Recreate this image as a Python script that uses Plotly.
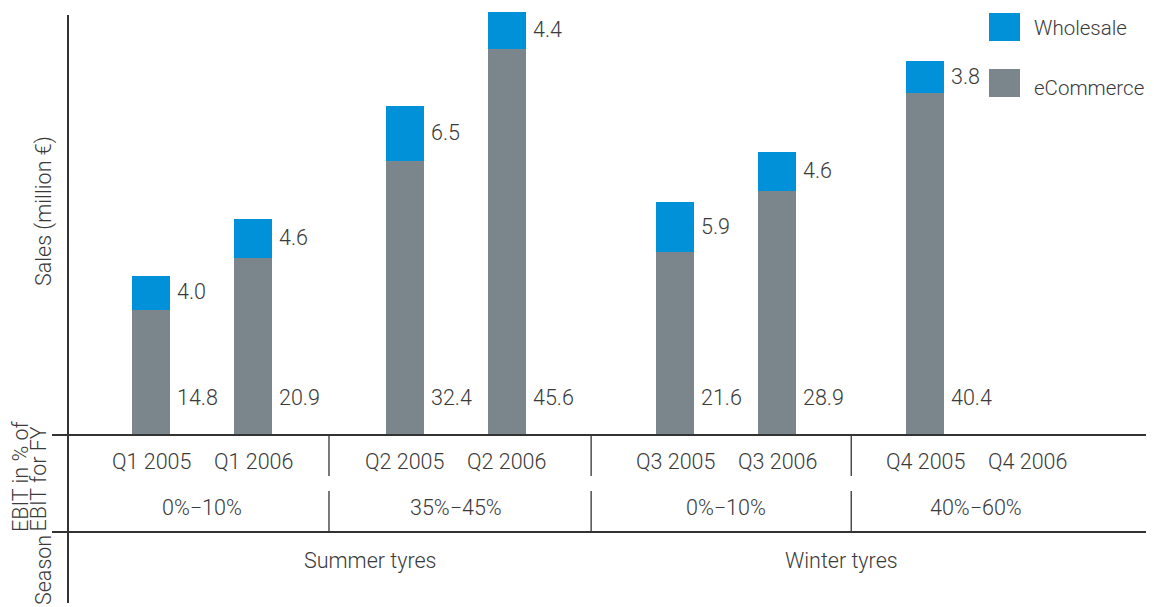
import plotly.graph_objects as go

# ---------------- data ----------------
quarters = ["Q1 2005", "Q1 2006", "Q2 2005", "Q2 2006",
            "Q3 2005", "Q3 2006", "Q4 2005", "Q4 2006"]
ecommerce = [14.8, 20.9, 32.4, 45.6, 21.6, 28.9, 40.4, None]
wholesale = [4.0, 4.6, 6.5, 4.4, 5.9, 4.6, 3.8, None]
ebit_ranges = ["0%\u221210%", "35%\u221245%", "0%\u221210%", "40%\u221260%"]
seasons = ["Summer tyres", "Winter tyres"]

# ---------------- styling / layout helpers ----------------
OFF = 8  # page body margin
W, H = 1154 - OFF, 607 - OFF
ML, MR, MT, MB = 68 - OFF, 0, 12 - OFF, 172
PW, PH = W - ML - MR, H - MT - MB
BLUE = "#0091D9"
GREY = "#7A868C"
LINE = "#333333"
TXT = "#3A3A3A"
FONT = "Roboto"
FW = 300
FS = 21.5
FS_LEG = 20.5

GROUP_SHIFT = [0.0, 0.49, 1.14, 1.59]   # extra spacing between quarter pairs
xpos = [i + GROUP_SHIFT[i // 2] for i in range(len(quarters))]
unit_px = 102.0
x_left = -83.0 / unit_px
x_right = x_left + PW / unit_px
BW = 38.0 / unit_px
YMAX = 50.0


def px(xp):
    return (xp - OFF - ML) / PW


def py(yp):
    return (H - MB - (yp - OFF)) / PH


def f(size=FS):
    return dict(size=size, color=TXT, family=FONT, weight=FW)


fig = go.Figure()
fig.add_trace(go.Bar(x=xpos, y=ecommerce, name="eCommerce", marker_color=GREY,
                     marker_line_width=0, width=BW, showlegend=False, hoverinfo="skip"))
fig.add_trace(go.Bar(x=xpos, y=wholesale, name="Wholesale", marker_color=BLUE,
                     marker_line_width=0, width=BW, showlegend=False, hoverinfo="skip"))

ann = []
shapes = []

# value labels
for x, e, w in zip(xpos, ecommerce, wholesale):
    if e is None:
        continue
    ann.append(dict(x=x + BW / 2, y=0, xref="x", yref="y", text=f"{e:.1f}",
                    xanchor="left", yanchor="middle", xshift=5, yshift=38,
                    showarrow=False, font=f()))
    ann.append(dict(x=x + BW / 2, y=e + w / 2, xref="x", yref="y", text=f"{w:.1f}",
                    xanchor="left", yanchor="middle", xshift=5, yshift=1,
                    showarrow=False, font=f()))

# quarter labels
for x, q in zip(xpos, quarters):
    ann.append(dict(x=x, y=py(461), xref="x", yref="paper", text=q,
                    xanchor="center", yanchor="middle", showarrow=False, font=f()))

# EBIT range labels
for g, r in enumerate(ebit_ranges):
    xm = (xpos[2 * g] + xpos[2 * g + 1]) / 2
    ann.append(dict(x=xm, y=py(508), xref="x", yref="paper", text=r,
                    xanchor="center", yanchor="middle", showarrow=False, font=f()))

# season labels
for s, xp in zip(seasons, [370, 841]):
    ann.append(dict(x=px(xp), y=py(560), xref="paper", yref="paper", text=s,
                    xanchor="center", yanchor="middle", showarrow=False, font=f()))

# axis titles
ann.append(dict(x=px(44), y=py(211), xref="paper", yref="paper",
                text="Sales (million \u20ac)", textangle=-90, showarrow=False,
                xanchor="center", yanchor="middle", font=f()))
for line_txt, xc in [("EBIT in % of", 20), ("EBIT for FY", 38)]:
    ann.append(dict(x=px(xc), y=py(533), xref="paper", yref="paper",
                    text=line_txt, textangle=-90, showarrow=False,
                    xanchor="center", yanchor="bottom", borderpad=0, font=f()))
ann.append(dict(x=px(43), y=py(606), xref="paper", yref="paper",
                text="Season", textangle=-90, showarrow=False,
                xanchor="center", yanchor="bottom", borderpad=0, font=f()))

# legend (drawn)
for lab, col, yt, ty in [("Wholesale", BLUE, 13, 28), ("eCommerce", GREY, 69, 88)]:
    shapes.append(dict(type="rect", xref="paper", yref="paper",
                       x0=px(989), x1=px(1020), y0=py(yt + 28), y1=py(yt),
                       fillcolor=col, line=dict(width=0)))
    ann.append(dict(x=px(1032), y=py(ty), xref="paper", yref="paper", text=lab,
                    xanchor="left", yanchor="middle", showarrow=False,
                    font=f(FS_LEG)))

# structural lines
shapes.append(dict(type="line", xref="paper", yref="paper", x0=0, x1=0,
                   y0=py(15), y1=py(603), line=dict(color=LINE, width=2)))
for yl in [435, 532]:
    shapes.append(dict(type="line", xref="paper", yref="paper", x0=px(52), x1=1,
                       y0=py(yl), y1=py(yl), line=dict(color=LINE, width=2)))
for g in range(3):
    xs = (xpos[2 * g + 1] + xpos[2 * g + 2]) / 2
    for y0, y1 in [(435, 476), (491, 532)]:
        shapes.append(dict(type="line", xref="x", yref="paper", x0=xs, x1=xs,
                           y0=py(y0), y1=py(y1), line=dict(color=LINE, width=1.3)))

fig.update_layout(
    barmode="stack",
    width=W, height=H,
    margin=dict(l=ML, r=MR, t=MT, b=MB, pad=0),
    paper_bgcolor="white", plot_bgcolor="white",
    xaxis=dict(range=[x_left, x_right], showgrid=False, zeroline=False,
               showticklabels=False, showline=False, ticks=""),
    yaxis=dict(range=[0, YMAX], showgrid=False, zeroline=False,
               showticklabels=False, showline=False, ticks=""),
    annotations=ann, shapes=shapes,
    font=dict(family=FONT, color=TXT, size=FS),
)

fig.write_html("out.html")
